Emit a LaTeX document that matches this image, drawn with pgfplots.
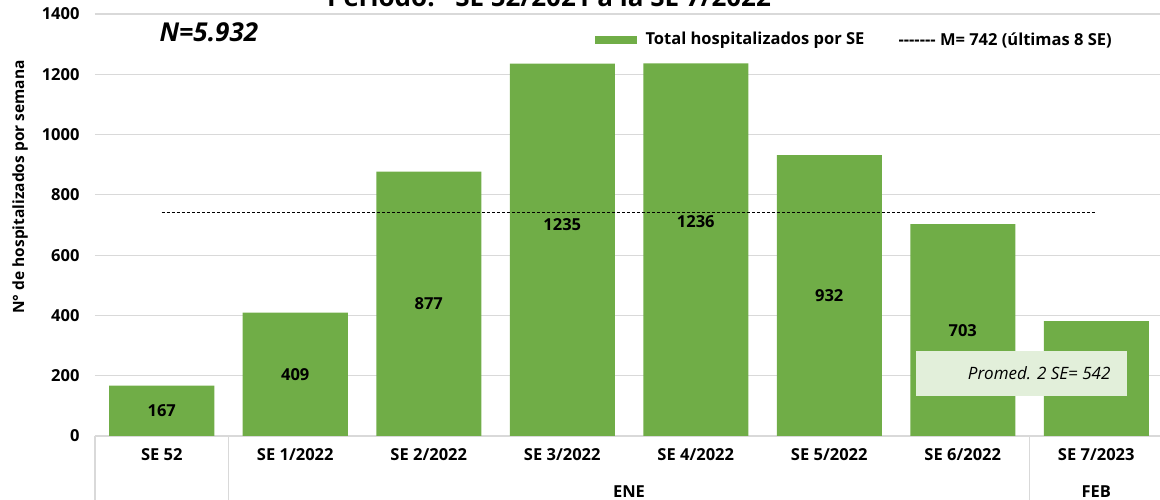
\documentclass[border=0pt]{standalone}
\usepackage{fontspec}
\setmainfont{Open Sans}
\usepackage{pgfplots}
\pgfplotsset{compat=1.18}
\definecolor{barg}{HTML}{70AD47}
\definecolor{boxg}{HTML}{E2EFDA}
\definecolor{gridc}{HTML}{D9D9D9}
\begin{document}
\begin{tikzpicture}[font=\fontsize{16.5}{19}\selectfont\bfseries]
\begin{axis}[
  at={(0pt,0pt)}, anchor=south west,
  scale only axis, width=1068pt, height=422pt,
  xmin=-0.5, xmax=7.5, ymin=0, ymax=1400,
  ytick={0,200,...,1400},
  xtick={0,...,7},
  xticklabels={SE 52, SE 1/2022, SE 2/2022, SE 3/2022, SE 4/2022, SE 5/2022, SE 6/2022, SE 7/2023},
  ymajorgrids, grid style={gridc, line width=1.2pt},
  axis line style={draw=none},
  major tick length=0pt,
  /pgf/number format/1000 sep={},
  /pgf/number format/assume math mode=true,
  tick label style={font=\fontsize{16.5}{19}\selectfont\bfseries},
  yticklabel style={xshift=-12pt},
  xticklabel style={yshift=-9pt},
  clip=false,
]
\addplot[ybar, bar width=105pt, fill=barg, draw=none] coordinates {(0,167) (1,409) (2,877) (3,1235) (4,1236) (5,932) (6,703) (7,381)};
\addplot[black, line width=0.8pt, dash pattern=on 3pt off 2pt] coordinates {(0,742) (7,742)};
\node at (axis cs:0,83) {167};
\node at (axis cs:1,205) {409};
\node at (axis cs:2,438) {877};
\node at (axis cs:3,700) {1235};
\node at (axis cs:4,710) {1236};
\node at (axis cs:5,466) {932};
\node at (axis cs:6,351) {703};
\fill[boxg] (axis cs:5.65,133) rectangle (axis cs:7.23,282);
\node[anchor=east, font=\fontsize{17}{20}\selectfont\mdseries\itshape] at ([xshift=-13pt]axis cs:7.23,207.5) {Promed. 2 SE= 542};
\draw[gridc, line width=1.2pt] (axis cs:-0.5,0) -- ([yshift=-70pt]axis cs:-0.5,0);
\draw[gridc, line width=1.2pt] (axis cs:0.5,0) -- ([yshift=-70pt]axis cs:0.5,0);
\draw[gridc, line width=1.2pt] (axis cs:6.5,0) -- ([yshift=-70pt]axis cs:6.5,0);
\node at ([yshift=-56pt]axis cs:3.5,0) {ENE};
\node at ([yshift=-56pt]axis cs:7,0) {FEB};
\end{axis}
\node[rotate=90, font=\fontsize{15.5}{18}\selectfont\bfseries] at (-75pt,249pt) {N° de hospitalizados por semana};
\fill[barg] (500pt,392pt) rectangle (542pt,400pt);
\node[anchor=west] at (547pt,396pt) {Total hospitalizados por SE};
\node[anchor=west] at (800pt,396pt) {-{}-{}-{}-{}-{}-{}- M= 742 (últimas 8 SE)};
\node[anchor=west, font=\fontsize{26}{30}\selectfont\bfseries\itshape] at (61pt,404pt) {N=5.932};
\node[anchor=base west, inner sep=0pt, font=\fontsize{26}{30}\selectfont\bfseries] at (232pt,429pt) {Período: “SE 52/2021 a la SE 7/2022” *};
\pgfresetboundingbox
\useasboundingbox (-95pt,-64pt) rectangle (1065pt,436pt);
\end{tikzpicture}
\end{document}
